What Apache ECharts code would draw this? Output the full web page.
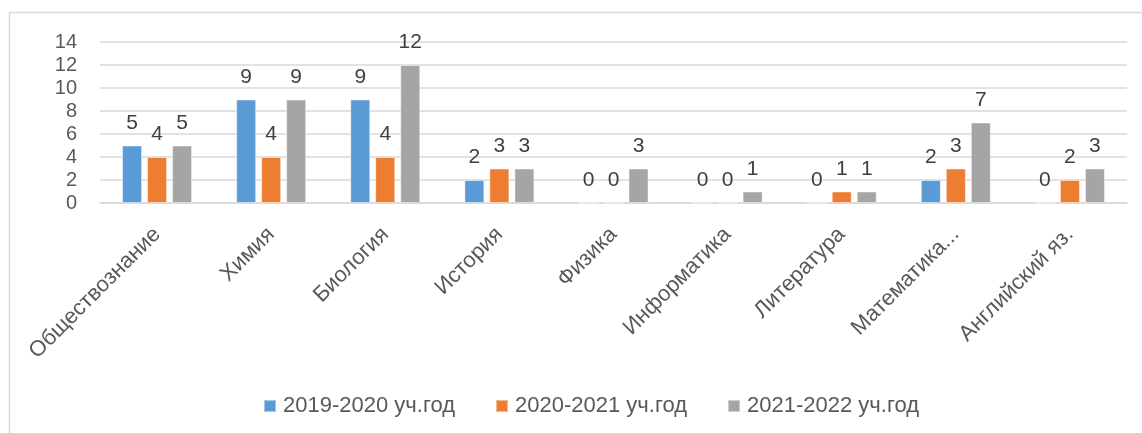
<!DOCTYPE html>
<html><head><meta charset="utf-8">
<script src="https://cdn.jsdelivr.net/npm/echarts@6/dist/echarts.min.js"></script>
<style>html,body{margin:0;padding:0;background:#fff}#c{width:1142px;height:433px}</style>
</head><body><div id="c"></div>
<script>
const categories = ['Обществознание','Химия','Биология','История','Физика','Информатика','Литература','Математика...','Английский яз.'];
const seriesNames = ['2019-2020 уч.год','2020-2021 уч.год','2021-2022 уч.год'];
const s2019 = [5, 9, 9, 2, 0, 0, 0, 2, 0];
const s2020 = [4, 4, 4, 3, 0, 0, 1, 3, 2];
const s2021 = [5, 9, 12, 3, 3, 1, 1, 7, 3];
const colors = ['#5B9BD5','#ED7D31','#A5A5A5'];
const yTicks = {min: 0, max: 14, interval: 2};
const FONT = '"Liberation Sans", Arial, sans-serif';

const chart = echarts.init(document.getElementById('c'));
const mk = (name, data, color) => ({
  name, type: 'bar', data, barWidth: 20, barGap: '25%',
  itemStyle: {color, borderColor: 'rgba(255,255,255,0.45)', borderWidth: 1},
  label: {show: true, position: 'top', distance: 12, color: '#404040', fontSize: 21, fontFamily: FONT},
  animation: false
});
chart.setOption({
  animation: false,
  textStyle: {fontFamily: FONT},
  graphic: [{type: 'polyline', silent: true, shape: {points: [[9.5, 433], [9.5, 12.5], [1142, 12.5]]}, style: {stroke: '#d9d9d9', lineWidth: 1.5, fill: null}}],
  grid: {left: 100, right: 15, top: 42, bottom: 230, containLabel: false},
  legend: {
    bottom: 11, left: 258, itemWidth: 12, itemHeight: 12, itemGap: 40,
    icon: 'rect',
    textStyle: {color: '#595959', fontSize: 22, fontFamily: FONT, padding: [0, 0, 0, 2]},
    data: seriesNames
  },
  xAxis: {
    type: 'category', data: categories,
    axisLine: {lineStyle: {color: '#d9d9d9', width: 1.5}},
    axisTick: {show: false},
    axisLabel: {rotate: 45, interval: 0, color: '#595959', fontSize: 22, fontFamily: FONT, margin: 28}
  },
  yAxis: {
    type: 'value', min: yTicks.min, max: yTicks.max, interval: yTicks.interval,
    axisLine: {show: false}, axisTick: {show: false},
    axisLabel: {color: '#595959', fontSize: 20, fontFamily: FONT, margin: 23},
    splitLine: {lineStyle: {color: '#d9d9d9', width: 1.5}}
  },
  series: [mk(seriesNames[0], s2019, colors[0]), mk(seriesNames[1], s2020, colors[1]), mk(seriesNames[2], s2021, colors[2])]
});
</script></body></html>
